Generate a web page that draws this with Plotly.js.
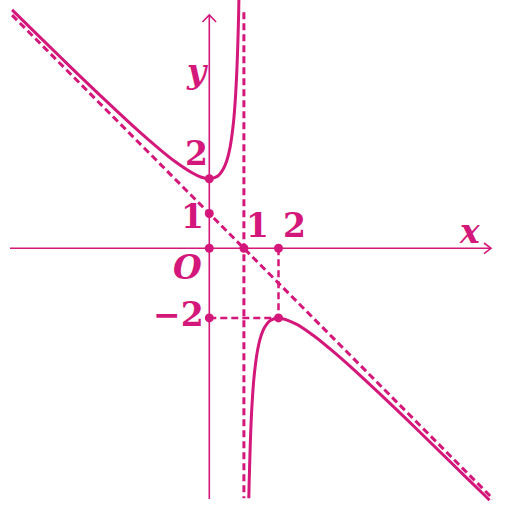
<!DOCTYPE html>
<html>
<head>
<meta charset="utf-8">
<script src="https://cdn.plot.ly/plotly-3.0.1.min.js"></script>
<style>html,body{margin:0;padding:0;background:#fff;}#chart{width:507px;height:510px;}</style>
</head>
<body>
<div id="chart"></div>
<script>
// Curve points
const leftX = [-5.7, -5, -4, -3, -2, -1.5, -1, -0.5, -0.25, 0, 0.25, 0.4, 0.5, 0.6, 0.7, 0.75, 0.8, 0.85, 0.9];
const leftY = [6.85, 6.17, 5.2, 4.25, 3.33, 2.9, 2.5, 2.17, 2.05, 2, 2.08, 2.27, 2.5, 2.9, 3.63, 4.25, 5.2, 6.82, 10.1];
const rightX = [1.142, 1.15, 1.2, 1.25, 1.3, 1.4, 1.5, 1.6, 1.75, 2, 2.5, 3, 3.5, 4, 5, 6, 7, 8, 8.1];
const rightY = [-7.18, -6.82, -5.2, -4.25, -3.63, -2.9, -2.5, -2.27, -2.08, -2, -2.17, -2.5, -2.9, -3.33, -4.25, -5.2, -6.17, -7.14, -7.24];
// Asymptotes
const obliqueX = [-5.7, 8.2];
const obliqueY = [6.7, -7.2];
const verticalX = [1, 1];
const verticalY = [6.78, -7.18];
// Guide lines to the point (2, -2)
const guideVX = [2, 2];
const guideVY = [0, -2];
const guideHX = [0, 2];
const guideHY = [-2, -2];
// Marked points
const dotX = [0, 0, 0, 1, 2, 0, 2];
const dotY = [0, 1, 2, 0, 0, -2, -2];
// Labels
const labels = [
  {t: '2', x: -0.38, y: 2.72},
  {t: '1', x: -0.5, y: 0.9},
  {t: '<i>O</i>', x: -0.64, y: -0.55},
  {t: '1', x: 1.38, y: 0.66},
  {t: '2', x: 2.47, y: 0.66},
  {t: '\u22122', x: -0.9, y: -1.9}
];

const C = '#d4177a';
const W = 507, H = 510;
const ox = 209.3, oy = 248.3, ux = 34.6, uy = 34.8;
const xr = [-ox / ux, (W - ox) / ux];
const yr = [-(H - oy) / uy, oy / uy];
const px = p => (p - ox) / ux;
const py = p => (oy - p) / uy;

const traces = [
  {x: obliqueX, y: obliqueY, mode: 'lines', line: {color: C, width: 3, dash: '7px,4px'}},
  {x: verticalX, y: verticalY, mode: 'lines', line: {color: C, width: 3, dash: '7px,4px'}},
  {x: guideVX, y: guideVY, mode: 'lines', line: {color: C, width: 2.5, dash: '7px,4px'}},
  {x: guideHX, y: guideHY, mode: 'lines', line: {color: C, width: 2.5, dash: '7px,4px'}},
  {x: leftX, y: leftY, mode: 'lines', line: {color: C, width: 3, shape: 'spline', smoothing: 1}},
  {x: rightX, y: rightY, mode: 'lines', line: {color: C, width: 3, shape: 'spline', smoothing: 1}},
  {x: dotX, y: dotY, mode: 'markers', marker: {color: C, size: 9}}
];

const shapes = [
  // x axis
  {type: 'line', xref: 'x', yref: 'y', x0: px(10), x1: px(491), y0: 0, y1: 0, line: {color: C, width: 1.6}},
  {type: 'path', xref: 'x', yref: 'y', path: `M${px(484)},${py(243)} L${px(491)},${py(248.3)} L${px(484)},${py(253.6)}`, line: {color: C, width: 1.6}},
  // y axis
  {type: 'line', xref: 'x', yref: 'y', x0: 0, x1: 0, y0: py(499), y1: py(15), line: {color: C, width: 1.6}},
  {type: 'path', xref: 'x', yref: 'y', path: `M${px(202.5)},${py(22)} L${px(209.3)},${py(15)} L${px(216.1)},${py(22)}`, line: {color: C, width: 1.6}}
];

const annotations = labels.map(l => ({
  text: l.t, x: l.x, y: l.y, xref: 'x', yref: 'y', showarrow: false,
  font: {family: 'DejaVu Serif', size: 33, color: C, weight: 'bold'}
}));
annotations.push({text: '<i>y</i>', x: px(197), y: py(71), xref: 'x', yref: 'y', showarrow: false,
  font: {family: 'DejaVu Serif', size: 33, color: C, weight: 'bold'}});
annotations.push({text: '<i>x</i>', x: px(469), y: py(231), xref: 'x', yref: 'y', showarrow: false,
  font: {family: 'DejaVu Serif', size: 33, color: C, weight: 'bold'}});

const layout = {
  width: W, height: H,
  margin: {l: 0, r: 0, t: 0, b: 0},
  paper_bgcolor: '#fff', plot_bgcolor: '#fff',
  showlegend: false,
  xaxis: {range: xr, visible: false, fixedrange: true},
  yaxis: {range: yr, visible: false, fixedrange: true},
  shapes: shapes,
  annotations: annotations
};

Plotly.newPlot('chart', traces, layout, {staticPlot: true, displayModeBar: false});
</script>
</body>
</html>
